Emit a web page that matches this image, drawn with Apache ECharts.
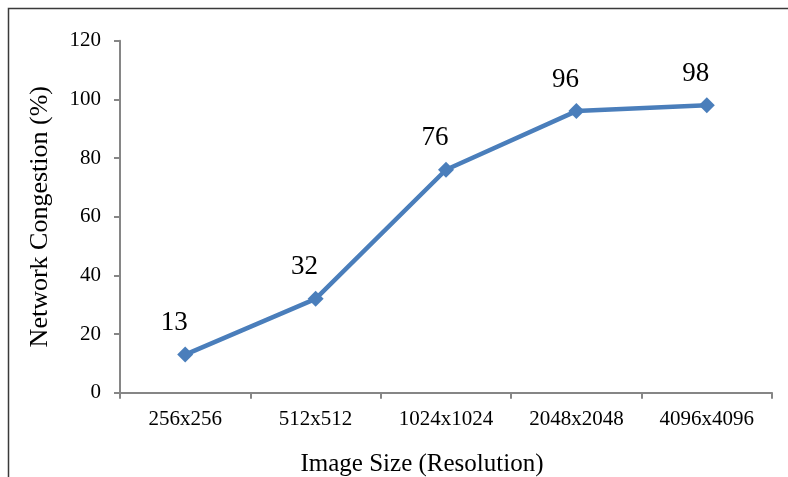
<!DOCTYPE html>
<html>
<head>
<meta charset="utf-8">
<script src="https://cdn.jsdelivr.net/npm/echarts@6/dist/echarts.min.js"></script>
<style>
  html, body { margin: 0; padding: 0; background: #fff; }
  #chart { width: 788px; height: 477px; }
</style>
</head>
<body>
<div id="chart"></div>
<script>
// Image resolutions and the measured network congestion for each
const categories = ['256x256', '512x512', '1024x1024', '2048x2048', '4096x4096'];
const congestion = [13, 32, 76, 96, 98];
const yTicks = { min: 0, max: 120, interval: 20 };

const FONT = '"Liberation Serif", "Times New Roman", serif';
const AXIS_GRAY = '#868686';

const chart = echarts.init(document.getElementById('chart'), null, { renderer: 'canvas' });

chart.setOption({
  animation: false,
  backgroundColor: '#ffffff',
  graphic: [{
    type: 'rect',
    shape: { x: 8.5, y: 8.5, width: 820, height: 520 },
    style: { fill: 'none', stroke: '#3a3a3a', lineWidth: 1.5 },
    silent: true
  }],
  grid: { left: 120, right: 16, top: 40.7, bottom: 84.3, outerBoundsMode: 'none', containLabel: false },
  xAxis: {
    type: 'category',
    data: categories,
    boundaryGap: true,
    name: 'Image Size (Resolution)',
    nameLocation: 'middle',
    nameGap: 59,
    nameTextStyle: { fontFamily: FONT, fontSize: 25, color: '#000', padding: [0, 48, 0, 0] },
    axisLine: { lineStyle: { color: AXIS_GRAY, width: 2 } },
    axisTick: { show: true, length: 6, lineStyle: { color: AXIS_GRAY, width: 2 } },
    axisLabel: { fontFamily: FONT, fontSize: 21, color: '#000', margin: 16 },
    splitLine: { show: false }
  },
  yAxis: {
    type: 'value',
    min: yTicks.min,
    max: yTicks.max,
    interval: yTicks.interval,
    name: 'Network Congestion (%)',
    nameLocation: 'middle',
    nameGap: 67,
    nameRotate: 90,
    nameTextStyle: { fontFamily: FONT, fontSize: 26, color: '#000' },
    axisLine: { show: true, lineStyle: { color: AXIS_GRAY, width: 2 } },
    axisTick: { show: true, length: 6, lineStyle: { color: AXIS_GRAY, width: 2 } },
    axisLabel: { fontFamily: FONT, fontSize: 21, color: '#000', margin: 19 },
    splitLine: { show: false }
  },
  series: [{
    type: 'line',
    data: congestion,
    symbol: 'diamond',
    symbolSize: 16,
    lineStyle: { color: '#4a7ebb', width: 4.5 },
    itemStyle: { color: '#4a7ebb' },
    label: {
      show: true,
      position: 'top',
      distance: 10,
      offset: [-11, 0],
      fontFamily: FONT,
      fontSize: 27,
      color: '#000'
    }
  }]
});
</script>
</body>
</html>
